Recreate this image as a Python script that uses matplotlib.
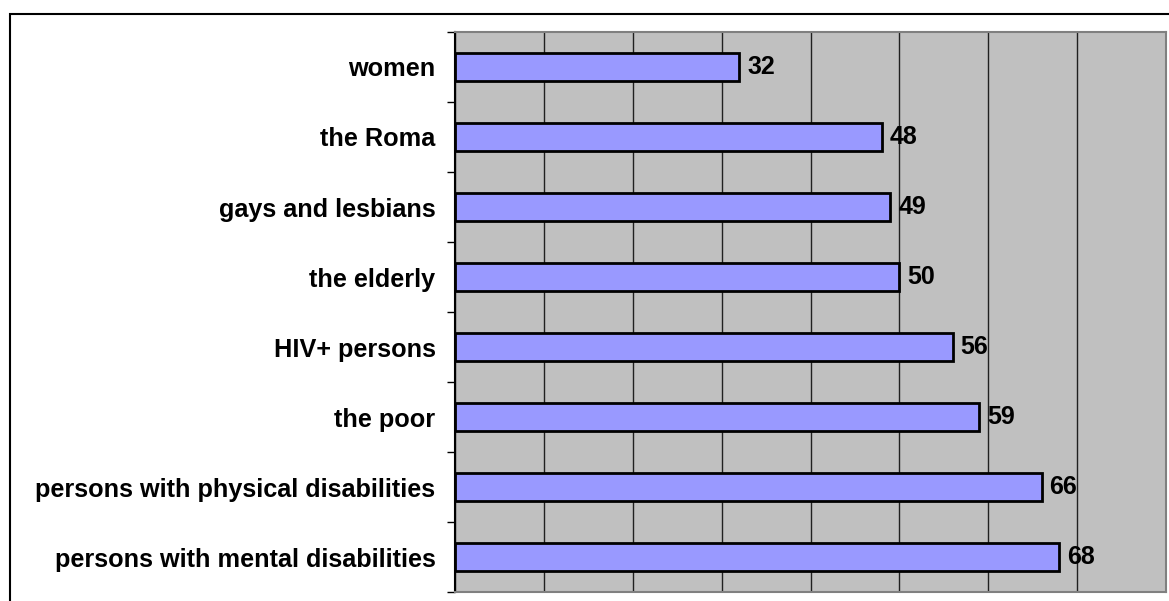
import matplotlib.pyplot as plt
from matplotlib.patches import Rectangle

categories = [
    "women", "the Roma", "gays and lesbians", "the elderly",
    "HIV+ persons", "the poor", "persons with physical disabilities",
    "persons with mental disabilities",
]
values = [32, 48, 49, 50, 56, 59, 66, 68]

W, H = 1169, 601


def main():
    plt.rcParams['font.family'] = ['Liberation Sans', 'DejaVu Sans']
    fig = plt.figure(figsize=(W / 100, H / 100), dpi=100)
    fig.patch.set_facecolor('white')

    # outer chart frame (cut off at right and bottom)
    fig.patches.append(Rectangle((10 / W, -0.05), 1.2, (H - 14) / H + 0.05,
                                 transform=fig.transFigure, fill=False,
                                 edgecolor='black', linewidth=1.5))

    ax = fig.add_axes([455 / W, (H - 592) / H, (1166 - 455) / W, (592 - 32) / H])
    ax.set_facecolor('#C0C0C0')

    pos = list(range(len(categories)))
    ax.barh(pos, values, height=0.4, color='#9999FF', edgecolor='black',
            linewidth=2, zorder=3)
    for p, v in zip(pos, values):
        ax.annotate(str(v), (v, p), xytext=(8, 0), textcoords='offset pixels',
                    va='center', ha='left', fontsize=18, fontweight='bold',
                    zorder=4)

    ax.set_xlim(0, 80)
    ax.set_ylim(len(categories) - 0.5, -0.5)
    ax.set_xticks(range(0, 81, 10))
    ax.xaxis.grid(True, color='#202020', linewidth=1, zorder=1)
    ax.tick_params(axis='x', length=0, labelbottom=False)

    ax.set_yticks(pos)
    ax.set_yticklabels(categories, fontsize=18.2, fontweight='bold')
    ax.set_yticks([p - 0.5 for p in pos] + [len(pos) - 0.5], minor=True)
    ax.tick_params(axis='y', which='major', length=0, pad=14)
    ax.tick_params(axis='y', which='minor', length=6, width=1, color='black')

    for side in ['top', 'right', 'bottom']:
        ax.spines[side].set_color('#808080')
        ax.spines[side].set_linewidth(1.5)
    ax.spines['left'].set_color('black')
    ax.spines['left'].set_linewidth(1.5)

    fig.savefig('out.png', dpi=100)


if __name__ == '__main__':
    main()
